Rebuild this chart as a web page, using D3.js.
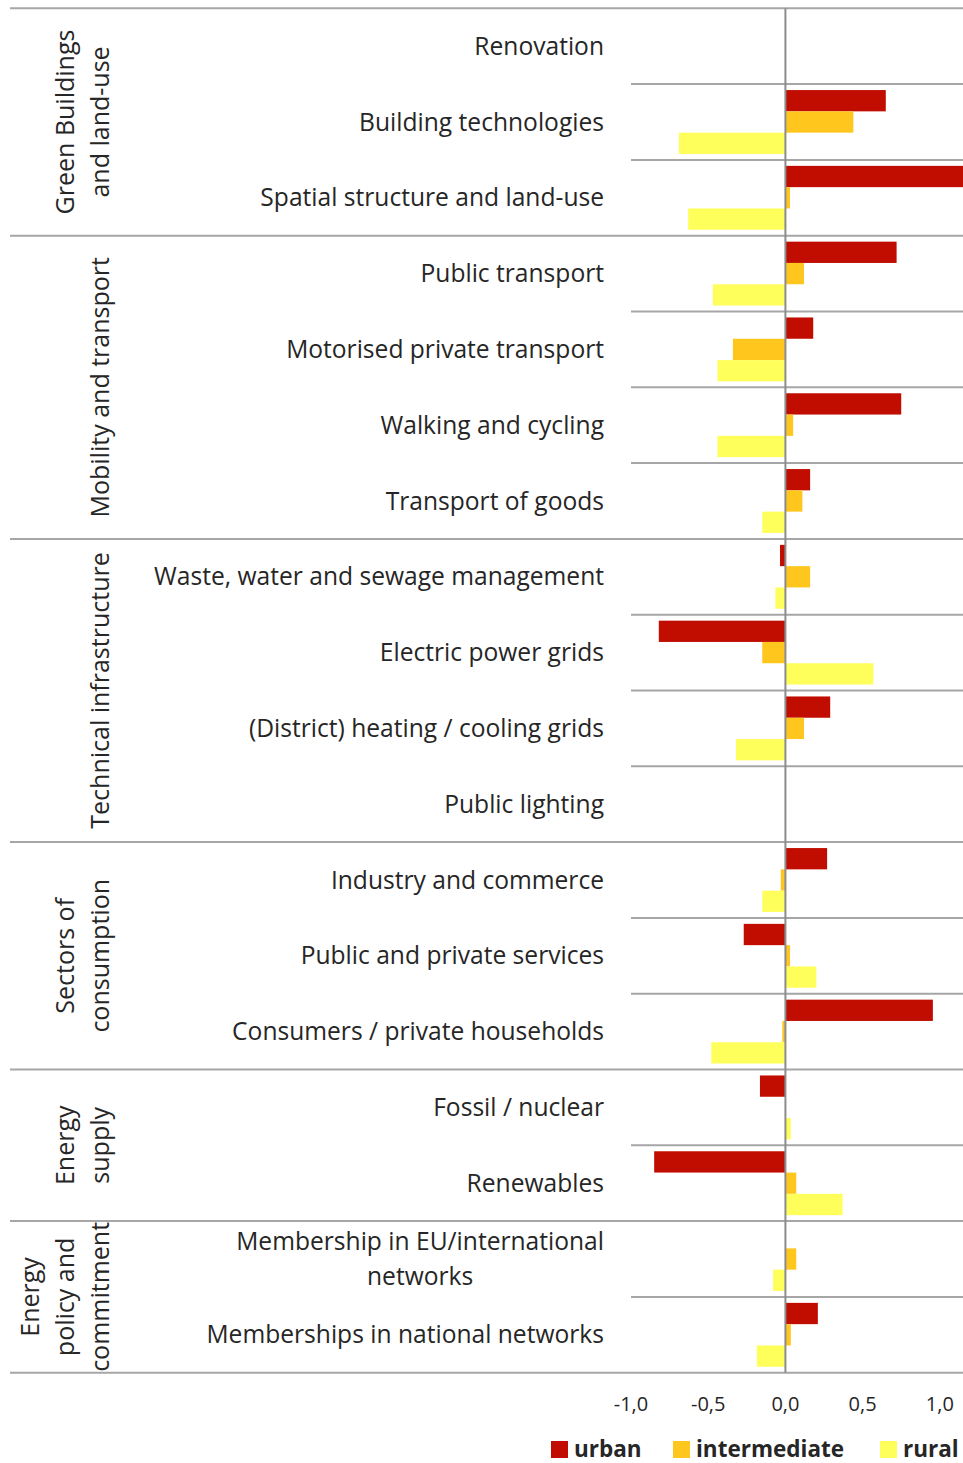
<!DOCTYPE html>
<html>
<head>
<meta charset="utf-8">
<script src="https://cdn.jsdelivr.net/npm/d3@7"></script>
<style>
  body { margin: 0; background: #fff; }
  text { font-family: "Open Sans", "Noto Sans", sans-serif; fill: #262626; }
</style>
</head>
<body>
<div id="chart"></div>
<script>
// categories, top to bottom ("\n" marks a line break)
let categories = ["Renovation", "Building technologies", "Spatial structure and land-use",
  "Public transport", "Motorised private transport", "Walking and cycling", "Transport of goods",
  "Waste, water and sewage management", "Electric power grids", "(District) heating / cooling grids", "Public lighting",
  "Industry and commerce", "Public and private services", "Consumers / private households",
  "Fossil / nuclear", "Renewables",
  "Membership in EU/international\nnetworks", "Memberships in national networks"]
let groupNames = [["Green Buildings", "and land-use"], ["Mobility and transport"], ["Technical infrastructure"],
  ["Sectors of", "consumption"], ["Energy", "supply"], ["Energy", "policy and", "commitment"]]
let groupSizes = [3, 4, 4, 3, 2, 2]
let seriesNames = ["urban", "intermediate", "rural"]
let urban = [null, 0.65, 1.2, 0.72, 0.18, 0.75, 0.16, -0.035, -0.82, 0.29, null, 0.27, -0.27, 0.955, -0.165, -0.85, null, 0.21]
let intermediate = [null, 0.44, 0.03, 0.12, -0.34, 0.05, 0.11, 0.16, -0.15, 0.12, null, -0.03, 0.03, -0.02, null, 0.07, 0.07, 0.035]
let rural = [null, -0.69, -0.63, -0.47, -0.44, -0.44, -0.15, -0.065, 0.57, -0.32, null, -0.15, 0.2, -0.48, 0.035, 0.37, -0.08, -0.185]
let tickValues = [-1, -0.5, 0, 0.5, 1]

let colors = ["#C00D00", "#FFC61E", "#FFFF5C"]
let width = 963, height = 1463
let left = 10, plotLeft = 631, right = 963, plotTop = 8.3, plotBottom = 1372.7

let locale = d3.formatLocale({ decimal: ",", thousands: ".", grouping: [3], currency: ["", ""], minus: "-" })
let fmt = locale.format(".1f")

let svg = d3.select("#chart").append("svg")
  .attr("width", width)
  .attr("height", height)

let x = d3.scaleLinear().domain([-1, 1.15]).range([plotLeft, right])
let y = d3.scaleBand().domain(categories).range([plotTop, plotBottom])
let ySub = d3.scaleBand().domain(seriesNames).range([0, y.bandwidth()]).paddingOuter(0.28)

let values = [urban, intermediate, rural]
let rows = []
categories.forEach((c, i) => {
  seriesNames.forEach((s, j) => {
    if (values[j][i] != null) rows.push({ cat: c, series: s, value: values[j][i], color: colors[j] })
  })
})

svg.append("clipPath").attr("id", "plotClip")
  .append("rect")
  .attr("x", plotLeft).attr("y", plotTop)
  .attr("width", right - plotLeft).attr("height", plotBottom - plotTop)

// row separators inside the plot
let groupEnds = Array.from(d3.cumsum(groupSizes))
let starts = [0].concat(groupEnds)
categories.forEach((c, i) => {
  if (i == 0) return
  let isGroup = starts.includes(i)
  svg.append("line")
    .attr("x1", isGroup ? left : plotLeft).attr("x2", right)
    .attr("y1", y(c)).attr("y2", y(c))
    .attr("stroke", "#a6a6a6").attr("stroke-width", 2)
})
// top and bottom lines
;[plotTop, plotBottom].forEach(v => {
  svg.append("line")
    .attr("x1", left).attr("x2", right)
    .attr("y1", v).attr("y2", v)
    .attr("stroke", "#a6a6a6").attr("stroke-width", 2)
})

// bars
svg.append("g")
  .attr("clip-path", "url(#plotClip)")
  .selectAll("rect")
  .data(rows)
  .enter()
  .append("rect")
  .attr("x", d => x(Math.min(0, d.value)))
  .attr("width", d => Math.abs(x(d.value) - x(0)))
  .attr("y", d => y(d.cat) + ySub(d.series))
  .attr("height", ySub.bandwidth())
  .attr("fill", d => d.color)

// zero line
svg.append("line")
  .attr("x1", x(0)).attr("x2", x(0))
  .attr("y1", plotTop).attr("y2", plotBottom)
  .attr("stroke", "#8c8c8c").attr("stroke-width", 2)

// category labels (wrapped ones are centred under their widest line)
categories.forEach(c => {
  let lines = c.split("\n")
  let cy = y(c) + y.bandwidth() / 2
  let texts = lines.map((l, k) => svg.append("text")
    .attr("y", cy + (k - (lines.length - 1) / 2) * 35)
    .attr("dy", "0.35em")
    .style("font-size", "24.6px")
    .text(l))
  if (lines.length == 1) {
    texts[0].attr("x", 604).attr("text-anchor", "end")
  } else {
    let maxW = d3.max(texts, t => t.node().getComputedTextLength())
    texts.forEach(t => t.attr("x", 604 - maxW / 2).attr("text-anchor", "middle"))
  }
})

// group labels (rotated)
groupNames.forEach((g, i) => {
  let y0 = y(categories[starts[i]])
  let y1 = y(categories[groupEnds[i] - 1]) + y.bandwidth()
  let cy = (y0 + y1) / 2
  g.forEach((l, k) => {
    let cx = 100 - (g.length - 1 - k) * 35
    svg.append("text")
      .attr("transform", "translate(" + cx + "," + cy + ") rotate(-90)")
      .attr("dy", "0.35em")
      .attr("text-anchor", "middle")
      .style("font-size", "25px")
      .text(l)
  })
})

// x axis tick labels
svg.selectAll(".tick")
  .data(tickValues)
  .enter()
  .append("text")
  .attr("x", d => x(d))
  .attr("y", 1404)
  .attr("dy", "0.35em")
  .attr("text-anchor", "middle")
  .style("font-size", "20px")
  .text(d => fmt(d))

// legend
let legendX = [551, 673, 880]
seriesNames.forEach((s, j) => {
  svg.append("rect")
    .attr("x", legendX[j]).attr("y", 1441)
    .attr("width", 17).attr("height", 17)
    .attr("fill", colors[j])
  svg.append("text")
    .attr("x", legendX[j] + 23).attr("y", 1449)
    .attr("dy", "0.35em")
    .style("font-size", "22.5px")
    .style("font-weight", "bold")
    .text(s)
})
</script>
</body>
</html>
